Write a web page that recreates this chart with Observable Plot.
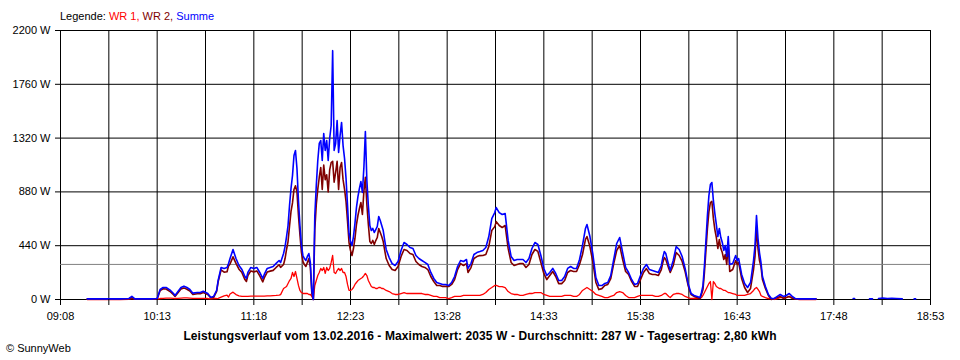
<!DOCTYPE html>
<html>
<head>
<meta charset="utf-8">
<script src="https://cdn.jsdelivr.net/npm/d3@7"></script>
<script src="https://cdn.jsdelivr.net/npm/@observablehq/plot@0.6"></script>
<style>
  html, body { margin: 0; padding: 0; background: #fff; }
  body { width: 960px; height: 360px; overflow: hidden; font-family: "Liberation Sans", Arial, sans-serif; color: #000; }
  #head { position: relative; height: 24px; }
  #legend { position: absolute; left: 60px; top: 10px; font-size: 11px; line-height: 13px; white-space: nowrap; }
  #chart svg { display: block; }
  #foot { position: relative; height: 36px; }
  #caption { position: absolute; left: 0; width: 960px; top: 5px; text-align: center; font-size: 12px; letter-spacing: 0.1px; font-weight: bold; line-height: 14px; white-space: nowrap; }
  #copy { position: absolute; left: 6px; top: 18px; font-size: 11px; line-height: 13px; white-space: nowrap; }
</style>
</head>
<body>
<div id="head"><div id="legend"></div></div>
<div id="chart"></div>
<div id="foot"><div id="caption"></div><div id="copy"></div></div>
<script>
// ---- data ----
const seriesNames = ["WR 1", "WR 2", "Summe"];
const seriesColors = ["#ff0000", "#800000", "#0000ff"];

const times = [
"09:26","09:35","09:48","09:54","09:56","09:58","10:09","10:13","10:15","10:17","10:19","10:22","10:24","10:25","10:27","10:29","10:31","10:33","10:35","10:37","10:40","10:42","10:44","10:47","10:49","10:51","10:53","10:54","10:56","10:58","11:00","11:01","11:02","11:04","11:06","11:08","11:10","11:12","11:13","11:14","11:16","11:18","11:20","11:22","11:24","11:25","11:27","11:29","11:31","11:33","11:35","11:36",
"11:38","11:39","11:40","11:41","11:42","11:43","11:44","11:45","11:46","11:47","11:48","11:49","11:50","11:51","11:52","11:53","11:54","11:55","11:56","11:57","11:58","11:59",
"12:00","12:01","12:02","12:03","12:04","12:05","12:06","12:07","12:08","12:09","12:10","12:11","12:12","12:13","12:14","12:15","12:16","12:17","12:18","12:19","12:20","12:21","12:22","12:23","12:24","12:25","12:26","12:27","12:28","12:29","12:30","12:31","12:32","12:33","12:34","12:35","12:36","12:37","12:38","12:39","12:40","12:41","12:42","12:43","12:44","12:45","12:46","12:47",
"12:49","12:51","12:53","12:55","12:57","12:59","13:01","13:03","13:05","13:07","13:09","13:11","13:13","13:15","13:17","13:19","13:21","13:23","13:25","13:27","13:29","13:31","13:33","13:35","13:37","13:39","13:41","13:42","13:44","13:46","13:48","13:50","13:52","13:54","13:56","13:58",
"14:00","14:01","14:03","14:05","14:07","14:09","14:11","14:13","14:15","14:17","14:19","14:21","14:23","14:25","14:27","14:29","14:31","14:33","14:35","14:37","14:39","14:41","14:43","14:45","14:47","14:49","14:51","14:53","14:55","14:57","14:59",
"15:01","15:02","15:04","15:06","15:08","15:10","15:12","15:14","15:16","15:18","15:20","15:22","15:24","15:26","15:28","15:30","15:32","15:34","15:36","15:38","15:40","15:42","15:44","15:46","15:48","15:50","15:52","15:53","15:54","15:55","15:57","15:58",
"16:00","16:02","16:04","16:06","16:08","16:10","16:12","16:14","16:16","16:18","16:19","16:20","16:21","16:22","16:23","16:24","16:25","16:26","16:27","16:28","16:29","16:30","16:31","16:32","16:33","16:34","16:35","16:36","16:37","16:38","16:40","16:42","16:43","16:44","16:46","16:48","16:50","16:52","16:54","16:55","16:56","16:57","16:58","16:59",
"17:00","17:02","17:04","17:06","17:08","17:10","17:12","17:14","17:16","17:18","17:20","17:22","17:25","17:36","17:37",
"18:01","18:02","18:03","18:12","18:14","18:15","18:18","18:21","18:24","18:27","18:30","18:34","18:35","18:42","18:43"
];

const wr1 = [
0,0,0,2,10,2,2,3,8,10,12,12,10,8,10,12,14,14,12,10,10,10,10,8,5,8,8,10,20,30,35,20,45,60,40,30,25,25,25,25,28,28,28,28,28,28,30,30,32,33,35,40,
90,98,106,131,155,172,221,188,229,172,115,74,57,49,49,49,49,41,41,25,0,115,
155,196,221,254,237,262,213,262,237,254,303,360,221,213,237,254,237,254,221,221,188,123,74,74,82,98,123,139,155,164,172,180,196,213,196,155,131,106,98,98,90,90,98,98,90,90,82,74,
65,49,41,41,49,57,49,49,49,49,49,49,41,41,33,25,25,16,16,16,8,16,25,25,25,33,33,33,33,33,33,33,41,57,82,98,
115,115,106,106,98,65,49,41,41,33,33,41,49,49,57,57,57,41,33,25,25,25,25,25,33,33,33,25,25,41,74,
90,98,82,65,41,33,25,16,16,25,33,57,65,57,33,16,16,16,25,33,33,33,33,33,25,25,33,41,49,49,25,16,
41,49,49,41,25,16,8,8,8,8,16,33,57,82,106,131,147,0,147,131,106,98,90,90,82,74,74,65,57,57,49,41,33,33,33,33,41,49,74,90,98,82,65,33,
25,16,8,8,0,8,16,16,16,25,16,4,0,0,null,
null,null,null,null,null,null,null,null,null,null,null,null,null,null,null
];

const wr2 = [
5,5,5,6,15,3,3,5,74,88,86,62,39,25,55,86,95,84,70,42,47,47,58,41,14,17,66,145,242,224,227,275,290,349,295,248,220,163,147,196,234,226,234,193,144,177,224,232,238,262,284,263,
286,335,409,474,600,720,790,900,930,880,690,530,385,311,286,270,303,335,262,49,0,572,
777,900,1000,1080,900,1100,980,1020,880,1060,1120,1130,960,1040,1130,900,1080,1120,980,900,800,640,466,400,360,417,499,613,687,744,793,695,884,1000,777,614,474,458,483,450,482,507,581,548,515,474,401,335,
278,245,237,270,352,409,401,376,368,311,286,270,262,245,188,147,114,115,107,107,106,123,163,245,294,278,294,221,261,335,351,359,360,368,433,564,
596,637,605,589,605,418,303,278,286,294,294,262,286,368,409,393,303,213,163,196,229,188,130,130,155,221,237,229,229,286,368,
491,515,433,303,139,81,89,115,123,171,294,401,442,327,229,205,148,107,106,163,221,253,212,204,204,196,245,302,343,327,253,221,
278,384,360,311,229,115,41,25,17,8,41,81,221,401,581,719,793,802,663,572,507,417,491,417,384,327,368,287,458,229,245,319,286,302,172,98,57,90,245,352,589,417,319,270,
163,90,33,0,8,17,25,9,17,24,9,4,5,5,null,
null,null,null,null,null,null,null,null,null,null,null,null,null,null,null
];

const summe = [
5,5,5,8,25,5,5,8,82,98,98,74,49,33,65,98,109,98,82,52,57,57,68,49,19,25,74,155,262,254,262,295,335,409,335,278,245,188,172,221,262,254,262,221,172,205,254,262,270,295,319,303,
376,433,515,605,769,908,1014,1178,1219,1071,810,605,442,360,335,319,352,376,303,74,0,687,
932,1137,1276,1300,1137,1358,1219,1300,1137,1317,1423,2035,1219,1276,1464,1202,1341,1448,1259,1153,990,769,540,474,442,515,622,752,842,908,965,875,1080,1374,973,769,605,564,581,548,572,597,679,646,605,564,483,409,
343,294,278,311,401,466,450,425,417,360,335,319,303,286,221,172,139,131,123,123,114,139,188,270,319,311,327,254,294,368,384,392,401,425,515,662,
711,752,711,695,703,483,352,319,327,327,327,303,335,417,466,450,360,254,196,221,254,213,155,155,188,254,270,254,254,327,442,
581,613,515,368,180,114,114,131,139,196,327,458,507,384,262,221,164,123,131,196,254,286,245,237,229,221,278,343,392,376,278,237,
319,433,409,352,254,131,49,33,25,16,57,114,278,483,687,850,940,957,810,703,613,515,581,507,466,401,442,352,515,286,294,360,319,335,205,131,98,139,319,442,687,499,384,303,
188,106,41,8,8,25,41,25,33,49,25,8,5,5,null,
8,8,null,5,5,null,8,12,8,10,8,5,null,5,5
];

const yTicks = [0, 440, 880, 1320, 1760, 2200];
const xStart = "09:08", xEnd = "18:53";
const averageW = 287;
const captionText = "Leistungsverlauf vom 13.02.2016 - Maximalwert: 2035 W - Durchschnitt: 287 W - Tagesertrag: 2,80 kWh";
const copyText = "\u00A9 SunnyWeb";

// ---- build ----
const toMin = s => { const [h, m] = s.split(":").map(Number); return h * 60 + m; };
const fmt = v => { const h = Math.floor(v / 60), m = Math.round(v % 60); return String(h).padStart(2, "0") + ":" + String(m).padStart(2, "0"); };
const x0 = toMin(xStart), x1 = toMin(xEnd);
const step = (x1 - x0) / 18;
const xTicks = d3.range(19).map(i => x0 + i * step);

const rows = times.map((t, i) => ({t: toMin(t), wr1: wr1[i], wr2: wr2[i], summe: summe[i]}));

const legend = document.getElementById("legend");
legend.innerHTML = 'Legende: <span style="color:' + seriesColors[0] + '">' + seriesNames[0] + ',</span> <span style="color:' + seriesColors[1] + '">' + seriesNames[1] + ',</span> <span style="color:' + seriesColors[2] + '">' + seriesNames[2] + '</span>';
document.getElementById("caption").textContent = captionText;
document.getElementById("copy").textContent = copyText;

const chart = Plot.plot({
  width: 960,
  height: 300,
  marginTop: 6,
  marginBottom: 25,
  marginLeft: 60,
  marginRight: 30,
  style: {fontFamily: "'Liberation Sans', Arial, sans-serif", fontSize: "11px", color: "#000", background: "#fff", overflow: "visible"},
  x: {domain: [x0, x1]},
  y: {domain: [0, 2200]},
  marks: [
    Plot.gridX(xTicks, {stroke: "#000", strokeOpacity: 1}),
    Plot.gridY(yTicks, {stroke: "#000", strokeOpacity: 1}),
    Plot.ruleY([averageW], {stroke: "#808080", strokeWidth: 1}),
    Plot.line(rows, {x: "t", y: "wr1", stroke: seriesColors[0], strokeWidth: 1.3}),
    Plot.line(rows, {x: "t", y: "wr2", stroke: seriesColors[1], strokeWidth: 1.6}),
    Plot.line(rows, {x: "t", y: "summe", stroke: seriesColors[2], strokeWidth: 1.6}),
    Plot.axisX(xTicks, {tickSize: 6, tickPadding: 7, tickFormat: (d, i) => i % 2 === 0 ? fmt(d) : "", label: null, stroke: "#000"}),
    Plot.axisY(yTicks, {tickSize: 5, tickPadding: 5, tickFormat: d => d + " W", label: null, stroke: "#000"})
  ]
});
document.getElementById("chart").appendChild(chart);
</script>
</body>
</html>
